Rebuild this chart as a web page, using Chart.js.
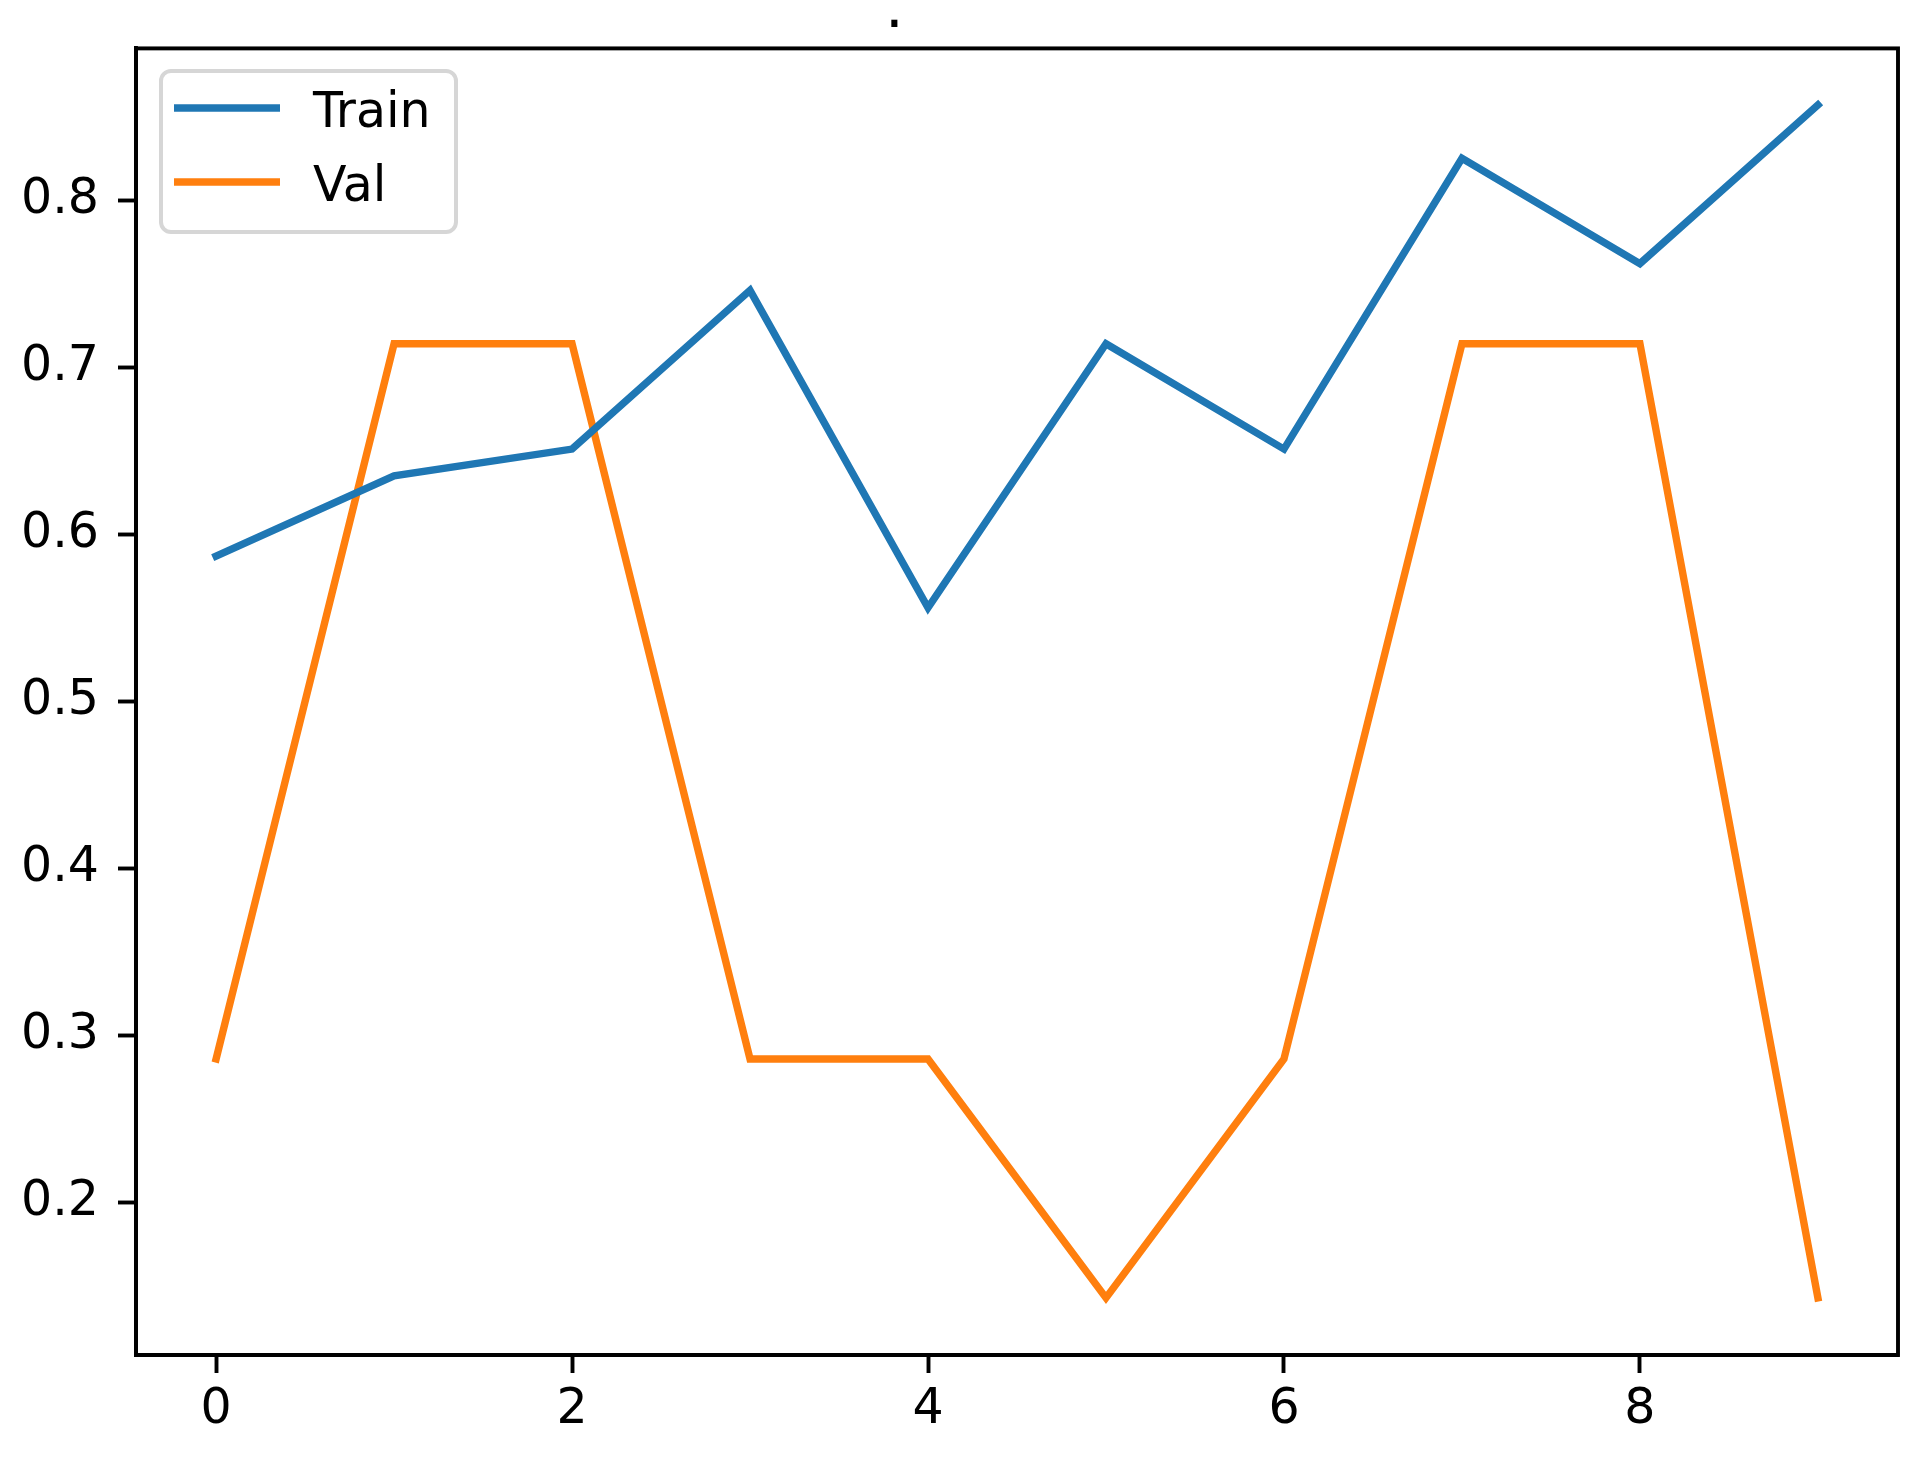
<!DOCTYPE html>
<html>
<head>
<meta charset="utf-8">
<script src="https://cdn.jsdelivr.net/npm/chart.js@4.4.0/dist/chart.umd.min.js"></script>
<style>
  html, body { margin: 0; padding: 0; background: #fff; }
  canvas { display: block; }
</style>
</head>
<body>
<canvas id="chart" width="1912" height="1459"></canvas>
<script>
// values
const epochs = [0, 1, 2, 3, 4, 5, 6, 7, 8, 9]
const trainAcc = [0.587, 0.635, 0.651, 0.746, 0.556, 0.714, 0.651, 0.825, 0.762, 0.857]
const valAcc = [0.286, 0.714, 0.714, 0.286, 0.286, 0.143, 0.286, 0.714, 0.714, 0.143]
const xTicks = [0, 2, 4, 6, 8]
const yTicks = [0.2, 0.3, 0.4, 0.5, 0.6, 0.7, 0.8]
const seriesNames = ["Train", "Val"]
const titleText = "."

const FONT = "'DejaVu Sans', sans-serif"
const SPINE = 3.9

// black box all round the plot, like matplotlib spines
const framePlugin = {
  id: "frame",
  afterDatasetsDraw(chart) {
    const { ctx, chartArea: a } = chart
    ctx.save()
    ctx.strokeStyle = "#000"
    ctx.lineWidth = SPINE
    ctx.strokeRect(a.left, a.top, a.right - a.left, a.bottom - a.top)
    ctx.restore()
  }
}

// title (just a dot) above the axes
const titlePlugin = {
  id: "dotTitle",
  afterDraw(chart) {
    const ctx = chart.ctx
    ctx.save()
    ctx.fillStyle = "#000"
    ctx.font = `59px ${FONT}`
    ctx.textAlign = "left"
    ctx.textBaseline = "alphabetic"
    ctx.fillText(titleText, 885, 27)
    ctx.restore()
  }
}

// matplotlib-style legend in the upper left corner
const legendPlugin = {
  id: "boxLegend",
  afterDraw(chart) {
    const ctx = chart.ctx
    const x = 161, y = 71, w = 295, h = 161, r = 10
    ctx.save()
    ctx.beginPath()
    ctx.roundRect(x, y, w, h, r)
    ctx.fillStyle = "rgba(255,255,255,0.8)"
    ctx.fill()
    ctx.lineWidth = 4
    ctx.strokeStyle = "#d6d6d6"
    ctx.stroke()

    const rows = [108, 182]
    chart.data.datasets.forEach((ds, i) => {
      ctx.beginPath()
      ctx.moveTo(174, rows[i])
      ctx.lineTo(280, rows[i])
      ctx.lineWidth = 7.4
      ctx.lineCap = "butt"
      ctx.strokeStyle = ds.borderColor
      ctx.stroke()

      ctx.fillStyle = "#000"
      ctx.font = `49px ${FONT}`
      ctx.textAlign = "left"
      ctx.textBaseline = "alphabetic"
      ctx.fillText(ds.label, 313, rows[i] + 18.5)
    })
    ctx.restore()
  }
}

function toPoints(values) {
  return epochs.map((e, i) => ({ x: e, y: values[i] }))
}

const ctx = document.getElementById("chart").getContext("2d")

new Chart(ctx, {
  type: "line",
  data: {
    datasets: [
      {
        label: seriesNames[0],
        data: toPoints(trainAcc),
        borderColor: "#1f77b4",
        backgroundColor: "#1f77b4",
        borderWidth: 7.4,
        pointRadius: 0,
        tension: 0,
        borderCapStyle: "square",
        borderJoinStyle: "miter"
      },
      {
        label: seriesNames[1],
        data: toPoints(valAcc),
        borderColor: "#ff7f0e",
        backgroundColor: "#ff7f0e",
        borderWidth: 7.4,
        pointRadius: 0,
        tension: 0,
        borderCapStyle: "square",
        borderJoinStyle: "miter"
      }
    ]
  },
  options: {
    responsive: false,
    animation: false,
    devicePixelRatio: 1,
    layout: { padding: { top: 46, right: 14, left: 0, bottom: 0 } },
    plugins: {
      legend: { display: false },
      title: { display: false },
      tooltip: { enabled: false }
    },
    scales: {
      x: {
        type: "linear",
        min: -0.45,
        max: 9.45,
        afterBuildTicks: s => { s.ticks = xTicks.map(v => ({ value: v })) },
        afterFit: s => { s.height = 104 },
        grid: {
          drawOnChartArea: false,
          drawTicks: true,
          tickLength: 18,
          tickColor: "#000",
          tickWidth: SPINE
        },
        border: { display: true, color: "#000", width: SPINE },
        ticks: {
          color: "#000",
          padding: 8,
          maxRotation: 0,
          font: { family: FONT, size: 49 },
          callback: v => String(v)
        }
      },
      y: {
        type: "linear",
        min: 0.1088,
        max: 0.8908,
        afterBuildTicks: s => { s.ticks = yTicks.map(v => ({ value: v })) },
        afterFit: s => { s.width = 136 },
        grid: {
          drawOnChartArea: false,
          drawTicks: true,
          tickLength: 18,
          tickColor: "#000",
          tickWidth: SPINE
        },
        border: { display: true, color: "#000", width: SPINE },
        ticks: {
          color: "#000",
          padding: 19,
          font: { family: FONT, size: 49 },
          callback: v => Number(v).toFixed(1)
        }
      }
    }
  },
  plugins: [framePlugin, titlePlugin, legendPlugin]
})
</script>
</body>
</html>
